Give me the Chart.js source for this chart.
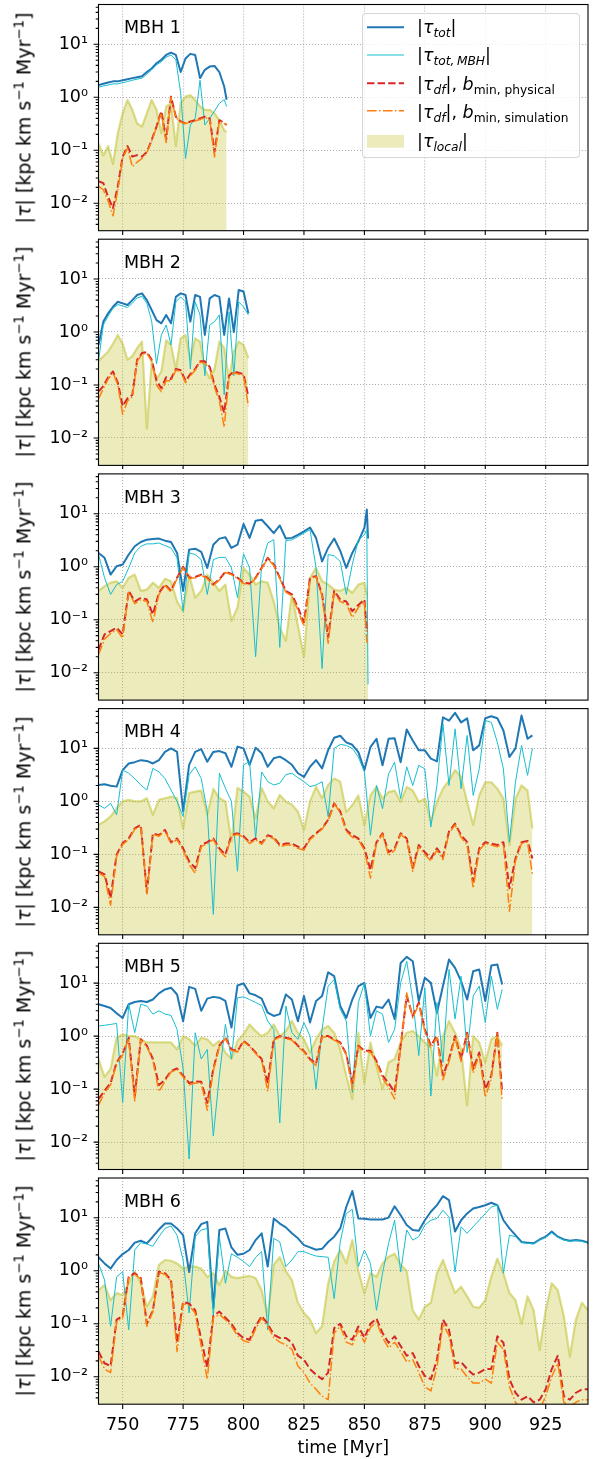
<!DOCTYPE html>
<html>
<head>
<meta charset="utf-8">
<title>MBH torques</title>
<script src="https://cdn.jsdelivr.net/npm/chart.js@4.4.1/dist/chart.umd.min.js"></script>
<style>
  html, body { margin: 0; padding: 0; background: #fff; }
  #figure { position: relative; width: 595px; height: 1459px; overflow: hidden; font-family: "DejaVu Sans", sans-serif; color: #000; }
  #figure canvas { position: absolute; left: 0; }
  .ylabel { position: absolute; left: 25px; font-size: 19px; line-height: 22px; white-space: nowrap; transform: translate(-50%, -50%) rotate(-90deg); }
  .panel-title { position: absolute; left: 124px; font-size: 17.5px; line-height: 20px; white-space: nowrap; }
  .legend { position: absolute; left: 362px; top: 13px; width: 216px; height: 143px; border: 1px solid rgba(204, 204, 204, 0.8); border-radius: 4px; background: rgba(255, 255, 255, 0.8); }
  .legend svg { position: absolute; left: 4px; top: 0; }
  .legend .txt { position: absolute; left: 54px; font-size: 17.5px; line-height: 20px; white-space: nowrap; }
  .sb { font-size: 0.7em; position: relative; top: 0.3em; }
  .sp { font-size: 0.7em; position: relative; top: -0.5em; }
</style>
</head>
<body>
<div id="figure"></div>
<script>
// axis ranges and tick labels
const xMin = 740, xMax = 942.5;
const yMin = 0.00304, yMax = 56.4;
const xTickValues = [750, 775, 800, 825, 850, 875, 900, 925];
const xTickLabels = ['750', '775', '800', '825', '850', '875', '900', '925'];
const yTickValues = [0.01, 0.1, 1, 10];
const yTickLabels = ['10\u207B\u00B2', '10\u207B\u00B9', '10\u2070', '10\u00B9'];
const panelNames = ['MBH 1', 'MBH 2', 'MBH 3', 'MBH 4', 'MBH 5', 'MBH 6'];

// MBH 1
const t1 = [740, 742, 744, 746, 748, 750, 752, 754, 756, 758, 760, 762, 764, 766, 768, 770, 772, 774, 776, 778, 780, 782, 784, 786, 788, 790, 792, 793];
const tot1 = [1.7, 1.8, 1.9, 2.0, 2.0, 2.1, 2.2, 2.3, 2.4, 2.5, 3.0, 3.5, 4.4, 5.1, 6.3, 7.0, 6.3, 3.0, 5.4, 6.6, 6.3, 2.3, 3.3, 3.8, 3.9, 3.0, 1.6, 0.9];
const mbh1 = [1.55, 1.64, 1.71, 1.79, 1.79, 1.89, 1.98, 2.1, 2.2, 2.3, 2.75, 3.3, 4.1, 4.7, 5.7, 6.3, 5.1, 1.2, 0.07, 0.3, 0.4, 2.1, 0.3, 0.4, 0.55, 0.77, 0.9, 0.67];
const phys1 = [0.026, 0.024, 0.013, 0.0081, 0.021, 0.076, 0.12, 0.076, 0.081, 0.076, 0.093, 0.157, 0.28, 0.55, 0.16, 1.03, 0.43, 0.35, 0.32, 0.35, 0.37, 0.4, 0.43, 0.4, 0.093, 0.37, 0.33, 0.3];
const sim1 = [0.021, 0.018, 0.011, 0.0058, 0.018, 0.07, 0.11, 0.049, 0.06, 0.07, 0.09, 0.15, 0.27, 0.5, 0.14, 1.0, 0.42, 0.34, 0.32, 0.34, 0.36, 0.38, 0.42, 0.38, 0.075, 0.36, 0.32, 0.3];
const local1 = [0.135, 0.08, 0.12, 0.055, 0.21, 0.5, 0.89, 0.58, 0.32, 0.28, 0.5, 0.89, 0.58, 0.21, 0.67, 0.77, 0.12, 0.77, 1.03, 1.1, 0.89, 0.67, 0.58, 0.58, 0.5, 0.37, 0.24, 0.22];

// MBH 2
const t2 = [740, 742, 744, 746, 748, 750, 752, 754, 756, 758, 760, 762, 764, 766, 768, 770, 772, 774, 776, 778, 780, 782, 784, 786, 788, 790, 792, 794, 796, 798, 800, 802];
const tot2 = [0.57, 1.57, 2.25, 3.0, 3.73, 3.47, 3.23, 4.0, 5.0, 5.37, 4.0, 2.6, 1.68, 1.46, 2.1, 1.46, 4.6, 5.37, 5.0, 1.57, 5.0, 4.6, 0.88, 4.3, 5.0, 4.6, 0.88, 4.3, 1.0, 6.2, 5.8, 2.25];
const mbh2 = [0.28, 1.36, 2.0, 2.8, 3.3, 3.1, 2.9, 3.5, 4.4, 4.7, 3.5, 1.6, 0.25, 0.88, 1.36, 0.57, 3.7, 4.6, 3.7, 0.2, 3.7, 2.1, 0.15, 1.36, 1.57, 2.1, 0.065, 2.4, 0.15, 3.7, 3.0, 2.1];
const phys2 = [0.075, 0.095, 0.14, 0.18, 0.11, 0.04, 0.056, 0.065, 0.3, 0.4, 0.42, 0.3, 0.12, 0.087, 0.14, 0.13, 0.2, 0.19, 0.12, 0.16, 0.2, 0.28, 0.28, 0.22, 0.1, 0.06, 0.03, 0.15, 0.18, 0.17, 0.16, 0.06];
const sim2 = [0.055, 0.085, 0.13, 0.17, 0.1, 0.028, 0.05, 0.06, 0.28, 0.38, 0.4, 0.28, 0.1, 0.075, 0.12, 0.12, 0.19, 0.18, 0.11, 0.15, 0.19, 0.27, 0.26, 0.2, 0.09, 0.05, 0.016, 0.14, 0.17, 0.16, 0.15, 0.04];
const local2 = [0.28, 0.35, 0.43, 0.6, 0.88, 0.6, 0.3, 0.35, 0.5, 0.66, 0.015, 0.28, 0.13, 0.18, 0.7, 0.57, 0.2, 0.76, 0.88, 0.3, 0.76, 0.66, 0.2, 0.134, 0.2, 0.66, 0.5, 0.13, 0.43, 0.66, 0.57, 0.32];

// MBH 3
const t3 = [740, 742.5, 745, 747.5, 750, 752.5, 755, 757.5, 760, 762.5, 765, 767.5, 770, 772.5, 775, 777.5, 780, 782.5, 785, 787.5, 790, 792.5, 795, 797.5, 800, 802.5, 805, 807.5, 810, 812.5, 815, 817.5, 820, 822.5, 825, 827.5, 830, 832.5, 835, 837.5, 840, 842.5, 845, 847.5, 850, 851, 851.5];
const tot3 = [1.82, 1.47, 0.71, 1.02, 1.1, 1.7, 2.43, 2.93, 3.24, 3.34, 3.39, 3.1, 2.93, 1.82, 0.35, 2.1, 2.19, 1.9, 0.95, 2.6, 3.39, 3.6, 2.26, 2.6, 6.4, 3.5, 7.4, 7.7, 5.8, 4.3, 6.0, 3.4, 3.5, 4.0, 4.66, 5.5, 3.5, 1.26, 2.26, 3.4, 2.0, 0.95, 1.82, 3.0, 5.4, 12, 3.4];
const mbh3 = [1.7, 0.62, 0.3, 0.46, 0.53, 0.95, 1.82, 2.43, 2.7, 2.7, 2.8, 2.5, 2.26, 1.47, 0.145, 1.82, 1.7, 1.36, 0.3, 1.36, 1.5, 1.5, 0.95, 0.26, 1.75, 0.95, 0.02, 1.1, 2.8, 3.24, 0.03, 3.1, 3.2, 3.7, 4.3, 5.0, 0.95, 0.012, 1.7, 1.6, 1.26, 0.3, 1.1, 3.2, 4.0, 5.0, 0.006];
const phys3 = [0.027, 0.053, 0.061, 0.071, 0.053, 0.35, 0.22, 0.26, 0.24, 0.126, 0.32, 0.46, 0.35, 0.62, 1.0, 0.62, 0.64, 0.71, 0.62, 0.46, 0.58, 0.8, 0.73, 0.62, 0.5, 0.48, 0.62, 0.95, 1.47, 1.1, 0.62, 0.35, 0.3, 0.17, 0.089, 0.62, 0.66, 0.3, 0.046, 0.35, 0.24, 0.22, 0.145, 0.19, 0.24, 0.061, 0.061];
const sim3 = [0.022, 0.043, 0.055, 0.065, 0.045, 0.33, 0.2, 0.24, 0.22, 0.089, 0.3, 0.44, 0.33, 0.6, 0.95, 0.6, 0.62, 0.69, 0.6, 0.44, 0.56, 0.78, 0.71, 0.6, 0.48, 0.46, 0.6, 0.92, 1.42, 1.05, 0.6, 0.33, 0.28, 0.15, 0.075, 0.6, 0.64, 0.28, 0.036, 0.33, 0.22, 0.2, 0.11, 0.17, 0.22, 0.038, 0.038];
const local3 = [0.35, 0.43, 0.5, 0.53, 0.4, 0.62, 0.71, 0.35, 0.37, 0.5, 0.4, 0.59, 0.53, 0.22, 0.145, 0.71, 0.26, 0.35, 0.71, 0.5, 0.35, 0.46, 0.095, 0.17, 0.95, 0.71, 0.46, 0.53, 0.5, 0.22, 0.071, 0.04, 0.3, 0.077, 0.02, 0.62, 0.95, 0.53, 0.46, 0.37, 0.35, 0.4, 0.32, 0.46, 0.5, 0.3, 0.3];

// MBH 4
const t4 = [740, 742.5, 745, 747.5, 750, 752.5, 755, 757.5, 760, 762.5, 765, 767.5, 770, 772.5, 775, 777.5, 780, 782.5, 785, 787.5, 790, 792.5, 795, 797.5, 800, 802.5, 805, 807.5, 810, 812.5, 815, 817.5, 820, 822.5, 825, 827.5, 830, 832.5, 835, 837.5, 840,
  842.5, 845, 847.5, 850, 852.5, 855, 857.5, 860, 862.5, 865, 867.5, 870, 872.5, 875, 877.5, 880, 882.5, 885, 887.5, 890, 892.5, 895, 897.5, 900, 902.5, 905, 907.5, 910, 912.5, 915, 917.5, 919.5];
const tot4 = [2.04, 2.1, 1.98, 1.9, 3.9, 5.2, 5.5, 6.0, 5.8, 5.2, 6.0, 8.6, 10, 8.6, 0.65, 4.9, 8.6, 9.7, 5.6, 8.6, 8.9, 8.1, 4.5, 10.8, 10, 4.9, 10.3, 8.1, 4.5, 6.5, 7.0, 6.0, 4.9, 3.4, 2.9, 4.5, 6.0, 4.2, 9.3, 15.9, 17.3,
  13, 11.7, 8.5, 3.9, 10.6, 15.2, 4.8, 15.2, 15.6, 5.5, 22.8, 14.1, 9.2, 9.2, 6.4, 5.7, 38.6, 33.6, 46.8, 31, 37, 9.2, 11.4, 37, 40.5, 37, 21.8, 6.9, 10, 41.7, 15.2, 17.6];
const mbh4 = [0.86, 0.74, 0.92, 0.56, 3.9, 3.4, 2.7, 2.04, 1.64, 4.2, 3.6, 2.7, 1.64, 1.0, 0.52, 3.2, 4.5, 2.7, 0.65, 0.0074, 3.4, 1.77, 1.0, 0.048, 4.9, 5.6, 0.2, 3.6, 2.36, 2.04, 2.2, 3.2, 3.4, 2.8, 2.36, 1.9, 2.04, 2.36, 0.52, 10, 11.9,
  11.4, 10, 6.9, 3.6, 0.23, 2.0, 0.73, 3.3, 5.5, 1.13, 4.5, 2.0, 4.8, 4.1, 0.33, 2.0, 29, 2.0, 23.4, 1.74, 17.6, 1.3, 4.1, 33.6, 31, 13, 4.1, 0.17, 2.3, 11.4, 3.1, 10];
const phys4 = [0.048, 0.042, 0.015, 0.099, 0.163, 0.2, 0.31, 0.36, 0.019, 0.25, 0.23, 0.29, 0.17, 0.2, 0.13, 0.074, 0.055, 0.15, 0.17, 0.2, 0.13, 0.099, 0.23, 0.25, 0.22, 0.17, 0.2, 0.163, 0.23, 0.21, 0.15, 0.16, 0.16, 0.14, 0.13, 0.2, 0.25, 0.31, 0.45, 0.92, 0.65,
  0.29, 0.23, 0.2, 0.13, 0.051, 0.17, 0.25, 0.11, 0.13, 0.25, 0.2, 0.055, 0.15, 0.11, 0.084, 0.13, 0.09, 0.27, 0.38, 0.23, 0.17, 0.031, 0.13, 0.17, 0.16, 0.15, 0.17, 0.023, 0.084, 0.17, 0.18, 0.084];
const sim4 = [0.045, 0.038, 0.011, 0.092, 0.155, 0.19, 0.3, 0.34, 0.018, 0.24, 0.22, 0.28, 0.16, 0.19, 0.12, 0.065, 0.044, 0.14, 0.16, 0.19, 0.12, 0.09, 0.22, 0.24, 0.21, 0.16, 0.19, 0.155, 0.22, 0.2, 0.14, 0.15, 0.15, 0.13, 0.12, 0.19, 0.24, 0.3, 0.43, 0.9, 0.62,
  0.27, 0.21, 0.19, 0.12, 0.036, 0.16, 0.24, 0.095, 0.12, 0.24, 0.19, 0.048, 0.14, 0.1, 0.075, 0.12, 0.08, 0.25, 0.36, 0.21, 0.15, 0.023, 0.12, 0.16, 0.15, 0.14, 0.16, 0.0085, 0.075, 0.16, 0.17, 0.042];
const local4 = [0.36, 0.42, 0.52, 0.74, 1.0, 1.07, 1.0, 1.0, 1.15, 0.56, 1.07, 1.15, 1.23, 1.15, 0.31, 1.43, 1.53, 1.6, 0.56, 1.72, 1.15, 1.0, 0.177, 1.8, 1.53, 1.23, 0.48, 1.8, 1.0, 0.74, 1.32, 1.0, 0.87, 0.64, 0.29, 1.0, 1.9, 1.15, 2.04, 2.7, 2.36,
  0.63, 0.85, 1.3, 0.36, 1.3, 1.87, 1.13, 1.5, 1.6, 0.98, 1.87, 1.6, 0.98, 1.13, 0.41, 0.98, 1.74, 2.5, 3.9, 2.9, 0.98, 0.36, 1.3, 2.3, 2.3, 1.74, 1.13, 0.15, 1.13, 2.0, 1.6, 0.31];

// MBH 5
const t5 = [740, 742.5, 745, 747.5, 750, 752.5, 755, 757.5, 760, 762.5, 765, 767.5, 770, 772.5, 775, 777.5, 780, 782.5, 785, 787.5, 790, 792.5, 795, 797.5, 800, 802.5, 805, 807.5, 810, 812.5, 815, 817.5, 820, 822.5, 825, 827.5, 830, 832.5, 835, 837.5, 840,
  842.5, 845, 847.5, 850, 852.5, 855, 857.5, 860, 862.5, 865, 867.5, 870, 872.5, 875, 877.5, 880, 882.5, 885, 887.5, 890, 892.5, 895, 897.5, 900, 902.5, 905, 907];
const tot5 = [4.0, 3.7, 3.4, 2.7, 2.2, 4.0, 4.4, 4.6, 4.4, 4.9, 6.4, 7.6, 8.2, 6.1, 1.9, 8.5, 7.8, 3.0, 5.1, 5.5, 5.3, 4.6, 1.45, 9.0, 9.9, 6.4, 5.9, 5.1, 2.76, 2.4, 2.6, 6.1, 4.9, 1.9, 5.7, 1.8, 4.6, 5.7, 16, 13.5, 3.7,
  2.2, 4.9, 8.8, 10.1, 2.2, 3.6, 3.4, 4.9, 2.1, 24, 31.3, 25.9, 4.6, 12.6, 10.1, 2.76, 8.8, 27.8, 19.4, 10.9, 4.9, 16.8, 18.1, 4.6, 21.4, 22.4, 9.4];
const mbh5 = [1.55, 1.6, 1.66, 1.74, 0.056, 4.0, 1.16, 4.0, 3.7, 2.6, 3.0, 2.6, 2.46, 1.34, 0.24, 0.0048, 1.16, 0.37, 0.56, 0.013, 0.18, 1.66, 0.37, 5.3, 5.5, 4.9, 4.3, 3.8, 1.93, 1.34, 0.023, 3.7, 1.16, 0.87, 1.8, 1.0, 0.1, 1.34, 8.8, 11.7, 3.2,
  1.93, 0.087, 4.3, 10, 1.0, 3.0, 2.6, 0.76, 1.34, 10.1, 25.9, 4.9, 0.43, 8.2, 0.074, 4.3, 0.32, 18.1, 2.1, 13.5, 0.49, 5.7, 8.8, 1.8, 13.5, 3.2, 7.6];
const phys5 = [0.065, 0.093, 0.13, 0.32, 0.46, 0.93, 0.074, 0.87, 0.66, 0.37, 0.12, 0.15, 0.22, 0.245, 0.18, 0.13, 0.14, 0.137, 0.055, 0.24, 0.66, 0.93, 0.56, 0.52, 0.81, 0.66, 0.49, 0.37, 0.13, 0.87, 1.0, 0.93, 0.87, 0.66, 0.52, 0.37, 0.3, 1.0, 1.0, 0.87, 0.76,
  0.46, 0.13, 0.66, 0.53, 0.53, 0.34, 0.18, 0.13, 0.087, 0.66, 5.7, 2.4, 4.3, 1.34, 0.66, 1.0, 0.18, 0.37, 1.0, 0.37, 1.16, 0.24, 0.49, 0.1, 0.18, 1.16, 0.087];
const sim5 = [0.05, 0.085, 0.12, 0.3, 0.44, 0.9, 0.06, 0.84, 0.63, 0.35, 0.09, 0.14, 0.21, 0.235, 0.17, 0.12, 0.13, 0.13, 0.04, 0.22, 0.64, 0.9, 0.54, 0.5, 0.78, 0.64, 0.47, 0.35, 0.09, 0.84, 0.96, 0.9, 0.84, 0.63, 0.5, 0.35, 0.28, 0.96, 0.96, 0.84, 0.73,
  0.44, 0.1, 0.63, 0.5, 0.5, 0.32, 0.16, 0.11, 0.065, 0.6, 6.5, 2.2, 4.0, 1.25, 0.6, 0.95, 0.15, 0.33, 0.95, 0.33, 1.1, 0.2, 0.45, 0.07, 0.16, 1.1, 0.06];
const local5 = [0.37, 0.17, 0.24, 0.93, 1.08, 1.0, 1.0, 0.87, 0.76, 0.76, 0.76, 0.76, 0.76, 0.56, 1.0, 0.87, 0.66, 0.93, 0.87, 0.66, 0.81, 0.49, 0.37, 0.81, 1.08, 1.66, 1.25, 1.0, 1.16, 1.66, 1.0, 1.25, 1.93, 1.16, 0.87, 0.49, 0.87, 1.34, 1.55, 1.16, 0.56,
  0.18, 0.065, 1.16, 0.13, 0.76, 0.27, 0.1, 0.32, 0.37, 0.76, 1.16, 1.25, 1.0, 0.76, 0.6, 0.18, 1.0, 1.93, 1.16, 0.56, 0.049, 1.0, 0.76, 0.32, 0.87, 1.0, 0.66];

// MBH 6
const t6 = [740, 742.5, 745, 747.5, 750, 752.5, 755, 757.5, 760, 762.5, 765, 767.5, 770, 772.5, 775, 777.5, 780, 782.5, 785, 787.5, 790, 792.5, 795, 797.5, 800, 802.5, 805, 807.5, 810, 812.5, 815, 817.5, 820, 822.5, 825, 827.5, 830, 832.5, 835, 837.5, 840,
  842.5, 845, 847.5, 850, 852.5, 855, 857.5, 860, 862.5, 865, 867.5, 870, 872.5, 875, 877.5, 880, 882.5, 885, 887.5, 890, 892.5, 895, 897.5, 900, 902.5, 905, 907.5, 910, 912.5, 915, 917.5, 920, 922.5, 925, 927.5, 930, 932.5, 935, 937.5, 940, 942.5];
const tot6 = [1.8, 1.38, 1.1, 1.6, 2.07, 2.47, 3.4, 3.7, 3.3, 4.4, 6.0, 7.8, 7.8, 6.3, 4.7, 0.95, 5.1, 7.6, 8.4, 0.2, 5.9, 6.3, 2.76, 2.0, 2.1, 2.47, 3.8, 5.1, 1.2, 9.7, 7.8, 6.6, 5.1, 4.1, 3.06, 2.76, 2.5, 2.6, 3.5, 4.4, 6.3,
  16, 32, 9.7, 9.6, 9.3, 9.3, 9.3, 10.1, 16.5, 11.2, 7.3, 5.9, 5.7, 9.0, 13, 17.3, 25.6, 21.5, 5.5, 9.0, 12.1, 15, 16, 17.3, 19.2, 17.3, 9.0, 6.3, 4.7, 3.5, 3.4, 3.3, 3.9, 4.4, 5.5, 4.4, 3.9, 3.7, 3.8, 3.7, 3.4];
const mbh6 = [1.38, 0.67, 0.09, 0.77, 0.96, 0.077, 2.47, 3.4, 3.2, 2.9, 4.4, 6.3, 7.0, 4.7, 1.6, 0.16, 4.4, 5.9, 6.3, 0.14, 4.4, 0.58, 2.1, 1.8, 1.5, 1.2, 1.8, 2.3, 0.077, 4.1, 3.5, 1.2, 1.6, 2.3, 2.3, 2.07, 1.9, 1.85, 1.8, 0.3, 3.5,
  12, 14.4, 1.2, 2.47, 1.38, 0.18, 0.9, 3.3, 9.0, 0.95, 5.9, 3.8, 4.4, 7.3, 9.0, 9.7, 13.9, 10.4, 0.95, 6.8, 5.1, 6.8, 9, 12, 16, 17.3, 0.9, 4.7, 4.4, 3.4, 3.3, 3.2, 3.8, 4.3, 5.2, 4.3, 3.8, 3.6, 3.7, 3.6, 3.3];
const phys6 = [0.03, 0.018, 0.016, 0.12, 0.14, 0.77, 0.9, 0.73, 0.1, 0.18, 0.96, 0.9, 0.67, 0.044, 0.26, 0.24, 0.18, 0.05, 0.015, 0.14, 0.17, 0.13, 0.1, 0.067, 0.054, 0.05, 0.09, 0.14, 0.1, 0.062, 0.054, 0.054, 0.044, 0.025, 0.021, 0.014, 0.011, 0.009, 0.012, 0.083, 0.1,
  0.058, 0.05, 0.089, 0.055, 0.1, 0.126, 0.067, 0.044, 0.058, 0.038, 0.025, 0.028, 0.016, 0.0103, 0.009, 0.021, 0.12, 0.077, 0.018, 0.019, 0.014, 0.011, 0.012, 0.014, 0.014, 0.058, 0.044, 0.009, 0.005, 0.0037, 0.0043, 0.0033, 0.0037, 0.0058, 0.014, 0.025, 0.0043, 0.0037, 0.005, 0.0058, 0.0058];
const sim6 = [0.025, 0.014, 0.012, 0.11, 0.13, 0.74, 0.86, 0.7, 0.09, 0.17, 0.92, 0.86, 0.63, 0.03, 0.24, 0.22, 0.16, 0.038, 0.009, 0.13, 0.15, 0.12, 0.09, 0.06, 0.048, 0.044, 0.08, 0.13, 0.09, 0.055, 0.045, 0.04, 0.033, 0.016, 0.012, 0.0076, 0.0058, 0.0043, 0.0037, 0.067, 0.09,
  0.045, 0.04, 0.075, 0.045, 0.085, 0.11, 0.055, 0.035, 0.045, 0.03, 0.019, 0.021, 0.012, 0.0065, 0.0054, 0.015, 0.1, 0.06, 0.014, 0.014, 0.01, 0.0076, 0.0076, 0.009, 0.0076, 0.045, 0.033, 0.0065, 0.0033, 0.0024, 0.0024, 0.0024, 0.0024, 0.0043, 0.01, 0.018, 0.0033, 0.0028, 0.0033, 0.0037, 0.0037];
const local6 = [0.43, 0.54, 0.28, 0.38, 0.35, 0.58, 0.96, 0.58, 0.21, 0.33, 1.3, 1.6, 1.55, 1.38, 1.1, 1.2, 1.2, 1.1, 0.77, 0.9, 0.54, 1.0, 0.77, 0.73, 0.77, 0.8, 0.73, 0.43, 0.14, 1.3, 1.8, 1.0, 0.67, 0.25, 0.16, 0.12, 0.067, 0.09, 0.58, 1.5, 2.47,
  1.38, 3.8, 1.0, 0.38, 0.9, 0.77, 1.38, 1.85, 2.1, 1.3, 1.0, 0.18, 0.12, 0.21, 0.25, 0.9, 1.6, 0.77, 0.38, 0.5, 0.33, 0.21, 0.2, 0.28, 0.77, 1.7, 0.9, 0.38, 0.28, 0.1, 0.33, 0.18, 0.032, 0.18, 0.58, 0.43, 0.14, 0.024, 0.12, 0.25, 0.18];

const panels = [
  { t: t1, tot: tot1, mbh: mbh1, phys: phys1, sim: sim1, local: local1 },
  { t: t2, tot: tot2, mbh: mbh2, phys: phys2, sim: sim2, local: local2 },
  { t: t3, tot: tot3, mbh: mbh3, phys: phys3, sim: sim3, local: local3 },
  { t: t4, tot: tot4, mbh: mbh4, phys: phys4, sim: sim4, local: local4 },
  { t: t5, tot: tot5, mbh: mbh5, phys: phys5, sim: sim5, local: local5 },
  { t: t6, tot: tot6, mbh: mbh6, phys: phys6, sim: sim6, local: local6 }
];

// layout of the stacked panels (px)
const panelTop0 = 4.5, panelStep = 234.7, panelH = 226.2;
const plotLeft = 98.5, plotRight = 588;
const figH = 1459;
const FONT = 'DejaVu Sans';

// minor tick positions on the log axis
const yMinorTicks = [];
[0.001, 0.01, 0.1, 1, 10].forEach(function (d) {
  for (let m = 2; m <= 9; m++) {
    const v = d * m;
    if (v > yMin && v < yMax) yMinorTicks.push(v);
  }
});

Chart.defaults.font.family = FONT;
Chart.defaults.color = '#000';

// spines and tick marks the way matplotlib draws them
const axesFrame = {
  id: 'axesFrame',
  afterDraw(chart) {
    const ctx = chart.ctx;
    const a = chart.chartArea;
    const xs = chart.scales.x, ys = chart.scales.y;
    ctx.save();
    ctx.strokeStyle = '#000';
    ctx.lineWidth = 1.1;
    ctx.setLineDash([]);
    ctx.beginPath();
    yMinorTicks.forEach(function (v) {
      const py = ys.getPixelForValue(v);
      ctx.moveTo(a.left - 2.8, py); ctx.lineTo(a.left, py);
    });
    yTickValues.forEach(function (v) {
      const py = ys.getPixelForValue(v);
      ctx.moveTo(a.left - 4.9, py); ctx.lineTo(a.left, py);
    });
    xTickValues.forEach(function (v) {
      const px = xs.getPixelForValue(v);
      ctx.moveTo(px, a.bottom); ctx.lineTo(px, a.bottom + 4.9);
    });
    ctx.stroke();
    ctx.strokeRect(a.left, a.top, a.right - a.left, a.bottom - a.top);
    ctx.restore();
  }
};

function series(t, vals) {
  return t.map(function (x, k) { return { x: x, y: vals[k] }; });
}

const fig = document.getElementById('figure');

panels.forEach(function (p, i) {
  const isLast = i === panels.length - 1;
  const top = Math.round(i * panelStep);
  const h = isLast ? figH - top : Math.round((i + 1) * panelStep) - top;
  const padTop = panelTop0 + i * panelStep - top;

  const canvas = document.createElement('canvas');
  canvas.width = 595;
  canvas.height = h;
  canvas.style.top = top + 'px';
  fig.appendChild(canvas);

  new Chart(canvas, {
    type: 'line',
    data: {
      datasets: [
        { label: 'df simulation', data: series(p.t, p.sim), borderColor: '#ff7f0e', borderWidth: 1.5, borderDash: [9.6, 2.4, 1.5, 2.4], order: 0 },
        { label: 'df physical', data: series(p.t, p.phys), borderColor: '#d62728', borderWidth: 2, borderDash: [7.4, 3.2], order: 1 },
        { label: 'tot MBH', data: series(p.t, p.mbh), borderColor: '#17becf', borderWidth: 1, order: 2 },
        { label: 'tot', data: series(p.t, p.tot), borderColor: '#1f77b4', borderWidth: 2, order: 3 },
        { label: 'local', data: series(p.t, p.local), borderColor: 'rgba(188, 189, 34, 0.5)', borderWidth: 2.2,
          backgroundColor: 'rgba(188, 189, 34, 0.3)', fill: 'start', order: 4 }
      ]
    },
    options: {
      responsive: false,
      animation: false,
      devicePixelRatio: 1,
      layout: { padding: { top: padTop, right: 595 - plotRight, left: 0, bottom: 0 }, autoPadding: false },
      elements: { point: { radius: 0 }, line: { tension: 0, borderJoinStyle: 'round' } },
      datasets: { line: { clip: 0 } },
      plugins: { legend: { display: false }, tooltip: { enabled: false } },
      scales: {
        x: {
          type: 'linear', min: xMin, max: xMax,
          afterBuildTicks: function (s) { s.ticks = xTickValues.map(function (v) { return { value: v }; }); },
          afterFit: function (s) { s.height = h - padTop - panelH; s.paddingLeft = 0; s.paddingRight = 0; },
          grid: { color: '#b0b0b0', lineWidth: 1.1, drawTicks: false },
          border: { display: false, dash: [1.1, 1.9] },
          ticks: { display: isLast, padding: 10.4, maxRotation: 0, autoSkip: false, font: { size: 17.5 },
            callback: function (v, k) { return xTickLabels[k]; } },
          title: { display: isLast, text: 'time [Myr]', font: { size: 17.5 }, padding: { top: 0, bottom: 0 } }
        },
        y: {
          type: 'logarithmic', min: yMin, max: yMax,
          afterBuildTicks: function (s) { s.ticks = yTickValues.map(function (v) { return { value: v }; }); },
          afterFit: function (s) { s.width = plotLeft; s.paddingTop = 0; s.paddingBottom = 0; },
          grid: { color: '#b0b0b0', lineWidth: 1.1, drawTicks: false },
          border: { display: false, dash: [1.1, 1.9] },
          ticks: { padding: 10.5, autoSkip: false, font: { size: 17.5 },
            callback: function (v, k) { return yTickLabels[k]; } }
        }
      }
    },
    plugins: [axesFrame]
  });

  // y axis label
  const yl = document.createElement('div');
  yl.className = 'ylabel';
  yl.style.top = (panelTop0 + i * panelStep + panelH / 2) + 'px';
  yl.innerHTML = '|<i>\u03C4</i>| [kpc km s<span class="sp">\u22121</span> Myr<span class="sp">\u22121</span>]';
  fig.appendChild(yl);

  // panel name
  const tl = document.createElement('div');
  tl.className = 'panel-title';
  tl.style.top = (33.3 + i * panelStep - 16.05) + 'px';
  tl.textContent = panelNames[i];
  fig.appendChild(tl);
});

// legend of the first panel
const legendRows = [
  { y: 13.3, html: '|<i>\u03C4</i><span class="sb"><i>tot</i></span>|', base: 19.5 },
  { y: 41, html: '|<i>\u03C4</i><span class="sb"><i>tot,&#8201;MBH</i></span>|', base: 47.5 },
  { y: 69.3, html: '|<i>\u03C4</i><span class="sb"><i>df</i></span>|, <i>b</i><span class="sb">min, physical</span>', base: 76.5 },
  { y: 96.7, html: '|<i>\u03C4</i><span class="sb"><i>df</i></span>|, <i>b</i><span class="sb">min, simulation</span>', base: 104.5 },
  { y: 127.3, html: '|<i>\u03C4</i><span class="sb"><i>local</i></span>|', base: 133 }
];
const legend = document.createElement('div');
legend.className = 'legend';
legend.innerHTML =
  '<svg width="40" height="143">' +
  '<line x1="0" x2="37" y1="' + legendRows[0].y + '" y2="' + legendRows[0].y + '" stroke="#1f77b4" stroke-width="2"/>' +
  '<line x1="0" x2="37" y1="' + legendRows[1].y + '" y2="' + legendRows[1].y + '" stroke="#17becf" stroke-width="1"/>' +
  '<line x1="0" x2="37" y1="' + legendRows[2].y + '" y2="' + legendRows[2].y + '" stroke="#d62728" stroke-width="2" stroke-dasharray="7.4 3.2"/>' +
  '<line x1="0" x2="37" y1="' + legendRows[3].y + '" y2="' + legendRows[3].y + '" stroke="#ff7f0e" stroke-width="1.5" stroke-dasharray="9.6 2.4 1.5 2.4"/>' +
  '<rect x="0" y="121" width="37" height="12.7" fill="rgba(188,189,34,0.3)"/>' +
  '</svg>';
legendRows.forEach(function (r) {
  const d = document.createElement('div');
  d.className = 'txt';
  d.style.top = (r.base - 16.05) + 'px';
  d.innerHTML = r.html;
  legend.appendChild(d);
});
fig.appendChild(legend);
</script>
</body>
</html>
